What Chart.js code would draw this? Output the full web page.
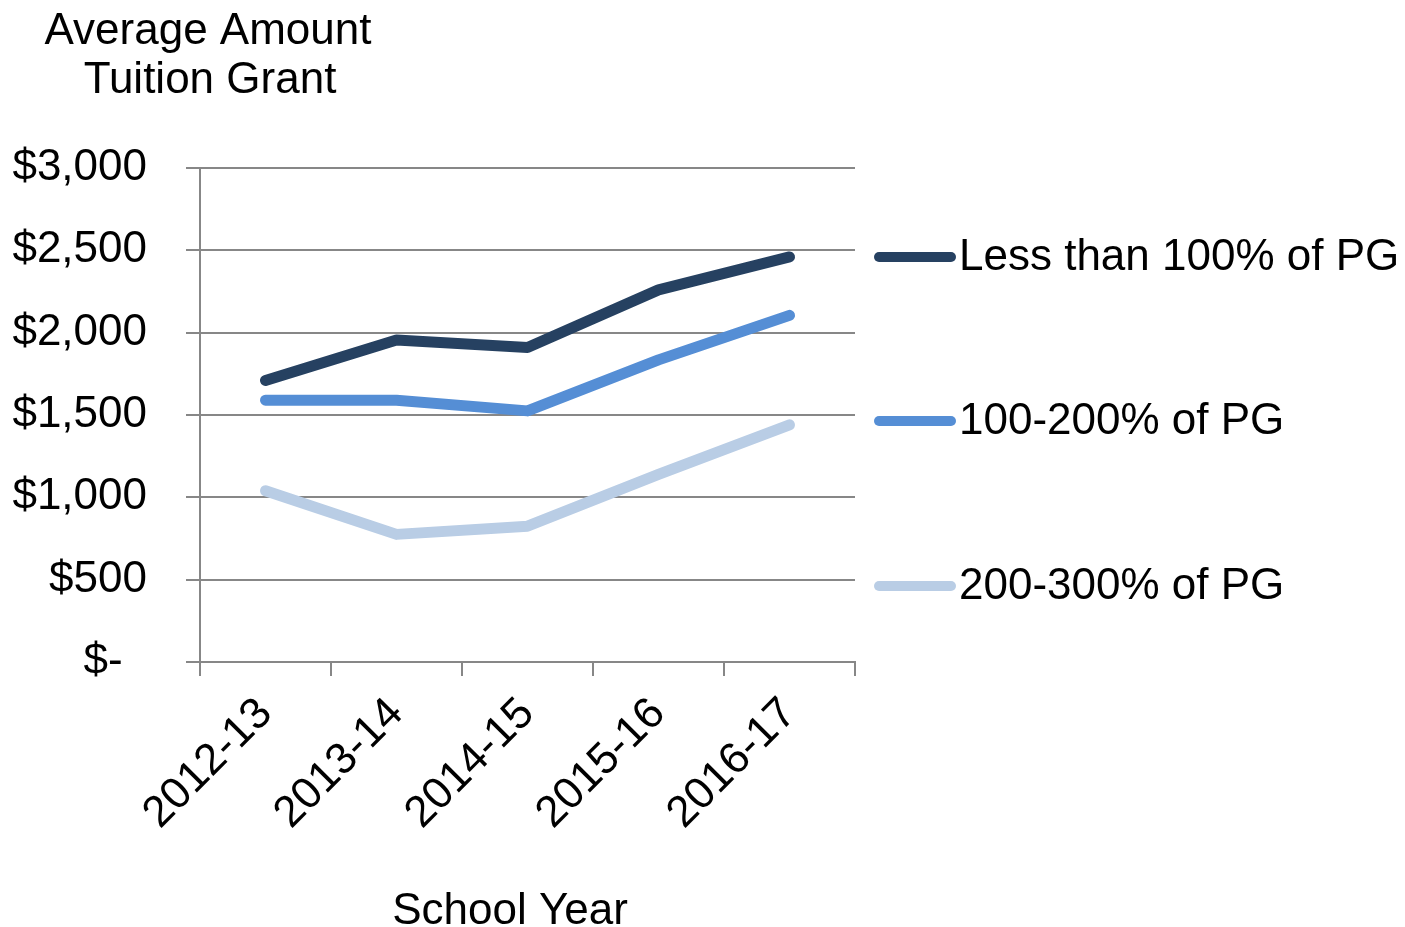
<!DOCTYPE html>
<html>
<head>
<meta charset="utf-8">
<title>Average Amount Tuition Grant</title>
<script src="https://cdn.jsdelivr.net/npm/chart.js@4.4.1/dist/chart.umd.min.js"></script>
<style>
  html, body { margin: 0; padding: 0; background: #ffffff; }
  canvas { display: block; }
</style>
</head>
<body>
<canvas id="grantChart" width="1405" height="927"></canvas>
<script>
// School years on the x axis
const schoolYears = ['2012-13', '2013-14', '2014-15', '2015-16', '2016-17'];

// Average tuition grant (dollars) by income band
const lessThan100 = [1710, 1955, 1910, 2260, 2460];
const from100to200 = [1590, 1590, 1525, 1835, 2105];
const from200to300 = [1040, 775, 825, 1140, 1440];

const seriesLabels = ['Less than 100% of PG', '100-200% of PG', '200-300% of PG'];
const seriesColors = ['#264161', '#558ed5', '#b9cde5'];

// Value axis range and step
const yMin = 0;
const yMax = 3000;
const yStep = 500;

const FONT = 'Liberation Sans, Arial, Helvetica, sans-serif';
const FONT_SIZE = 44;
const GRID = '#878787';
const LINE_W = 11;

Chart.defaults.font.family = FONT;
Chart.defaults.font.size = FONT_SIZE;
Chart.defaults.color = '#000000';

function money(v) {
  if (v === 0) return '$-  ';
  return '$' + v.toLocaleString('en-US');
}

// Axis titles and the right-hand legend
const decorations = {
  id: 'decorations',
  afterDraw(chart) {
    const ctx = chart.ctx;
    ctx.save();
    ctx.fillStyle = '#000000';
    ctx.font = FONT_SIZE + 'px ' + FONT;
    ctx.textAlign = 'center';
    ctx.textBaseline = 'alphabetic';
    ctx.fillText('Average Amount', 208, 44);
    ctx.fillText('Tuition Grant', 210, 93);
    ctx.fillText('School Year', 510, 924);

    const rows = [257, 421, 586];
    chart.data.datasets.forEach((ds, i) => {
      const y = rows[i];
      ctx.strokeStyle = ds.borderColor;
      ctx.lineWidth = 10;
      ctx.lineCap = 'round';
      ctx.beginPath();
      ctx.moveTo(879, y);
      ctx.lineTo(951, y);
      ctx.stroke();
      ctx.textAlign = 'left';
      ctx.textBaseline = 'middle';
      ctx.fillText(ds.label, 959, y + 1);
    });
    ctx.restore();
  }
};

const seriesValues = [lessThan100, from100to200, from200to300];

new Chart(document.getElementById('grantChart'), {
  type: 'line',
  data: {
    labels: schoolYears,
    datasets: seriesValues.map((vals, i) => ({
      label: seriesLabels[i],
      data: vals,
      borderColor: seriesColors[i],
      backgroundColor: seriesColors[i],
      borderWidth: LINE_W,
      borderCapStyle: 'round',
      borderJoinStyle: 'round',
      pointRadius: 0,
      pointHoverRadius: 0,
      tension: 0,
      fill: false
    }))
  },
  options: {
    responsive: false,
    devicePixelRatio: 1,
    animation: false,
    events: [],
    layout: { padding: { left: 0, top: 168, right: 550, bottom: 0 } },
    plugins: {
      legend: { display: false },
      title: { display: false },
      tooltip: { enabled: false }
    },
    scales: {
      x: {
        type: 'category',
        offset: true,
        afterFit(scale) { scale.height = 265; },
        grid: {
          offset: true,
          drawOnChartArea: false,
          drawTicks: true,
          tickLength: 14,
          color: GRID,
          lineWidth: 2
        },
        border: { display: true, color: GRID, width: 2 },
        ticks: {
          autoSkip: false,
          minRotation: 45,
          maxRotation: 45,
          padding: 12,
          color: '#000000',
          font: { size: FONT_SIZE }
        }
      },
      y: {
        min: yMin,
        max: yMax,
        afterFit(scale) { scale.width = 200; },
        grid: {
          color: GRID,
          lineWidth: 2,
          tickLength: 14,
          drawTicks: true
        },
        border: { display: true, color: GRID, width: 2 },
        ticks: {
          stepSize: yStep,
          padding: 39,
          color: '#000000',
          font: { size: FONT_SIZE },
          callback: (v) => money(v)
        }
      }
    }
  },
  plugins: [decorations]
});
</script>
</body>
</html>
